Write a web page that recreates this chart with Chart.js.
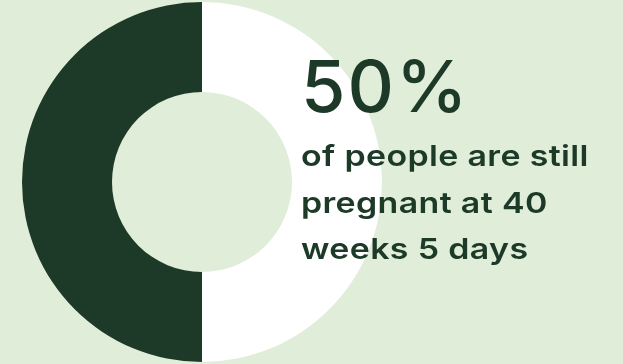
<!DOCTYPE html>
<html>
<head>
<meta charset="utf-8">
<script src="https://cdn.jsdelivr.net/npm/chart.js@4"></script>
<style>
  html, body { margin: 0; padding: 0; background: #e0edd9; }
  #wrap { position: relative; width: 623px; height: 364px; overflow: hidden; background: #e0edd9; }
  #c { position: absolute; left: 0; top: 0; }
  .t { position: absolute; left: 301px; color: #1c3a27; font-family: Inter, "Noto Sans", sans-serif; white-space: nowrap; transform-origin: 0 0; }
  #big { top: 50px; font-size: 72px; line-height: 72px; font-weight: 500; letter-spacing: 2px; }
  #small { top: 133px; font-size: 29px; line-height: 46.5px; font-weight: 600; letter-spacing: 0.3px; transform: scaleX(1.17); }
</style>
</head>
<body>
<div id="wrap">
  <canvas id="c" width="623" height="364"></canvas>
  <div class="t" id="big"></div>
  <div class="t" id="small"></div>
</div>
<script>
const categories = ["Still pregnant at 40 weeks 5 days", "Delivered"];
const shareValues = [50, 50];
const headline = "50%";
const captionLines = ["of people are still", "pregnant at 40", "weeks 5 days"];

document.getElementById('big').textContent = headline;
document.getElementById('small').innerHTML = captionLines.map(s => s.replace(/&/g,'&amp;').replace(/</g,'&lt;')).join('<br>');

new Chart(document.getElementById('c'), {
  type: 'doughnut',
  data: {
    labels: categories,
    datasets: [{
      data: shareValues,
      backgroundColor: ['#1c3a27', '#ffffff'],
      borderWidth: 0,
      hoverOffset: 0
    }]
  },
  options: {
    responsive: false,
    animation: false,
    rotation: 180,
    cutout: '50%',
    layout: { padding: { left: 22, right: 241, top: 2, bottom: 2 } },
    plugins: { legend: { display: false }, tooltip: { enabled: false } },
    events: []
  }
});
</script>
</body>
</html>
